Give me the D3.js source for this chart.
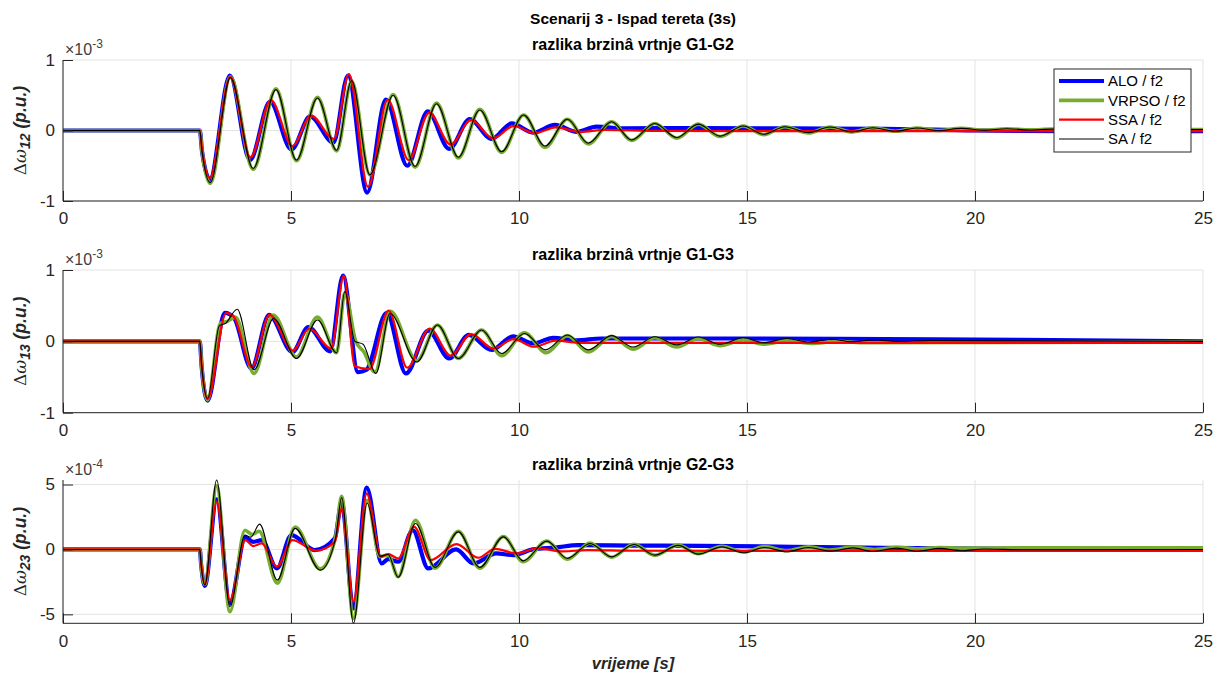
<!DOCTYPE html>
<html><head><meta charset="utf-8">
<script src="https://cdn.jsdelivr.net/npm/d3@7"></script>
<style>body{margin:0;background:#fff;} svg{display:block;font-family:"Liberation Sans",Arial,sans-serif;}</style>
</head><body><svg id="c" width="1220" height="682"></svg>
<script>
// ---------------- data ----------------
const xTicks = [0, 5, 10, 15, 20, 25];
const seriesNames = ["ALO / f2", "VRPSO / f2", "SSA / f2", "SA / f2"];
const mainTitle = "Scenarij 3 - Ispad tereta (3s)";
const panelTitles = ["razlika brzinâ vrtnje G1-G2", "razlika brzinâ vrtnje G1-G3", "razlika brzinâ vrtnje G2-G3"];
const panelSubs = ["12", "13", "23"];
const panelExp = ["-3", "-3", "-4"];
const yTicksA = [-1, 0, 1];
const yTicksB = [-5, 0, 5];
const xLabel = "vrijeme [s]";

// panel 1 (x1e-3)
const p1_ALO = [[0,0],[3,0],[3.05,-0.3],[3.22,-0.69],[3.66,0.78],[4.10,-0.42],[4.54,0.41],[5.01,-0.27],[5.42,0.20],[5.93,-0.17],[6.25,0.78],[6.67,-0.88],[7.08,0.44],[7.55,-0.50],[8.00,0.27],[8.47,-0.26],[8.92,0.16],[9.40,-0.12],[9.84,0.10],[10.31,-0.03],[10.79,0.08],[11.27,-0.02],[11.70,0.055],[12.3,0.03],[14,0.035],[16,0.03],[18,0.025],[20,0.0],[22,-0.01],[25,-0.01]];
const p1_VRPSO = [[0,0],[3,0],[3.05,-0.3],[3.23,-0.75],[3.67,0.76],[4.17,-0.55],[4.67,0.59],[5.12,-0.43],[5.58,0.47],[6.00,-0.29],[6.33,0.70],[6.73,-0.63],[7.24,0.51],[7.72,-0.52],[8.19,0.39],[8.67,-0.39],[9.14,0.30],[9.62,-0.31],[10.10,0.22],[10.57,-0.24],[11.06,0.16],[11.52,-0.19],[12.03,0.125],[12.47,-0.14],[12.98,0.10],[13.46,-0.11],[13.93,0.09],[14.41,-0.085],[14.92,0.064],[15.36,-0.06],[15.83,0.054],[16.35,-0.035],[16.82,0.05],[17.30,-0.02],[17.76,0.04],[18.25,-0.01],[18.72,0.035],[19.2,0.0],[19.7,0.03],[20.2,0.005],[20.7,0.025],[21.2,0.01],[21.7,0.02],[22.5,0.015],[25,0.015]];
const p1_SSA = [[0,0],[3,0],[3.05,-0.28],[3.22,-0.67],[3.67,0.76],[4.11,-0.38],[4.56,0.43],[5.03,-0.22],[5.44,0.21],[5.94,-0.12],[6.27,0.80],[6.69,-0.80],[7.12,0.44],[7.58,-0.42],[8.03,0.25],[8.50,-0.20],[8.95,0.15],[9.43,-0.11],[9.89,0.064],[10.35,-0.04],[10.80,0.045],[11.34,-0.02],[11.9,0.01],[13,-0.005],[16,-0.01],[25,-0.01]];
const p1_SA = [[0,0],[3,0],[3.05,-0.3],[3.23,-0.74],[3.67,0.75],[4.17,-0.54],[4.67,0.58],[5.12,-0.42],[5.58,0.46],[6.00,-0.28],[6.33,0.71],[6.73,-0.63],[7.24,0.50],[7.72,-0.51],[8.19,0.38],[8.67,-0.38],[9.14,0.29],[9.62,-0.30],[10.10,0.22],[10.57,-0.22],[11.06,0.16],[11.52,-0.18],[12.03,0.125],[12.47,-0.135],[12.98,0.10],[13.46,-0.10],[13.93,0.09],[14.41,-0.08],[14.92,0.064],[15.36,-0.054],[15.83,0.054],[16.35,-0.03],[16.82,0.05],[17.30,-0.02],[17.76,0.04],[18.25,-0.01],[18.72,0.035],[19.2,0.0],[19.7,0.03],[20.2,0.005],[20.7,0.025],[21.2,0.008],[21.7,0.02],[22.5,0.015],[25,0.015]];

// panel 2 (x1e-3)
const p2_ALO = [[0,0],[3,0],[3.04,-0.35],[3.17,-0.83],[3.55,0.40],[3.75,0.33],[4.13,-0.38],[4.52,0.37],[5.03,-0.15],[5.38,0.20],[5.86,-0.14],[6.14,0.92],[6.47,-0.43],[6.65,-0.40],[7.10,0.40],[7.52,-0.45],[8.01,0.15],[8.47,-0.24],[8.90,0.09],[9.40,-0.12],[9.87,0.07],[10.31,-0.03],[10.75,0.05],[11.27,0.015],[11.8,0.04],[15,0.04],[18,0.03],[21,0.02],[25,0.0]];
const p2_VRPSO = [[0,0],[3,0],[3.04,-0.34],[3.17,-0.82],[3.45,0.25],[3.60,0.28],[3.78,0.34],[4.19,-0.45],[4.61,0.37],[5.12,-0.22],[5.58,0.34],[6.00,-0.16],[6.18,0.68],[6.42,0.0],[6.60,-0.15],[6.84,-0.43],[7.18,0.42],[7.76,-0.27],[8.21,0.23],[8.67,-0.24],[9.18,0.16],[9.62,-0.20],[10.12,0.12],[10.60,-0.16],[11.06,0.08],[11.52,-0.15],[12.03,0.07],[12.50,-0.11],[12.98,0.05],[13.46,-0.08],[13.93,0.04],[14.41,-0.06],[14.92,0.02],[15.36,-0.04],[15.90,0.01],[16.40,-0.03],[17.0,0.0],[17.5,-0.02],[25,-0.01]];
const p2_SSA = [[0,0],[3,0],[3.04,-0.33],[3.17,-0.81],[3.58,0.40],[3.75,0.34],[4.14,-0.36],[4.53,0.37],[5.04,-0.13],[5.40,0.18],[5.88,-0.10],[6.16,0.92],[6.40,-0.35],[6.72,-0.39],[7.14,0.43],[7.55,-0.37],[8.04,0.18],[8.50,-0.20],[8.95,0.10],[9.44,-0.10],[9.88,0.03],[10.33,-0.075],[10.80,0.01],[11.3,-0.02],[25,-0.02]];
const p2_SA = [[0,0],[3,0],[3.04,-0.33],[3.17,-0.80],[3.43,0.22],[3.56,0.25],[3.82,0.45],[4.19,-0.40],[4.62,0.32],[5.12,-0.24],[5.58,0.30],[6.00,-0.16],[6.18,0.70],[6.40,0.0],[6.58,-0.04],[6.86,-0.45],[7.17,0.39],[7.76,-0.29],[8.21,0.23],[8.67,-0.24],[9.18,0.16],[9.62,-0.17],[10.12,0.11],[10.58,-0.12],[11.06,0.09],[11.52,-0.12],[12.03,0.08],[12.50,-0.08],[12.98,0.065],[13.46,-0.05],[13.93,0.06],[14.41,-0.04],[14.92,0.05],[15.36,-0.02],[15.87,0.04],[16.35,-0.01],[16.85,0.03],[17.3,-0.005],[17.8,0.02],[18.3,0.0],[19,0.01],[25,0.0]];

// panel 3 (x1e-4)
const p3_ALO = [[0,0],[3,0],[3.03,-1.2],[3.11,-2.8],[3.37,3.85],[3.66,-4.15],[4.00,0.92],[4.17,0.59],[4.36,0.72],[4.69,-1.46],[5.01,1.10],[5.52,-0.05],[5.96,0.85],[6.11,3.6],[6.37,-4.54],[6.66,4.77],[6.99,-1.08],[7.13,-0.75],[7.35,-0.95],[7.67,1.48],[8.01,-1.46],[8.62,0.0],[9.00,-1.08],[9.50,-0.30],[9.87,-0.44],[10.30,0.0],[10.8,0.15],[11.3,0.33],[12.5,0.3],[14,0.28],[16,0.2],[18,0.12],[21,0.05],[25,0.0]];
const p3_VRPSO = [[0,0],[3,0],[3.03,-1.2],[3.11,-2.7],[3.37,4.9],[3.66,-4.8],[3.99,1.48],[4.15,1.15],[4.30,1.40],[4.70,-2.6],[5.09,1.72],[5.64,-1.50],[5.98,1.0],[6.11,4.1],[6.37,-5.3],[6.67,3.79],[6.95,-0.55],[7.13,-0.42],[7.35,-2.1],[7.73,2.25],[8.16,-1.45],[8.67,1.40],[9.14,-1.45],[9.66,1.0],[10.09,-0.95],[10.61,0.65],[11.06,-0.75],[11.56,0.50],[12.03,-0.60],[12.52,0.40],[12.98,-0.45],[13.49,0.33],[13.93,-0.33],[14.45,0.25],[14.92,-0.20],[15.39,0.22],[15.87,-0.10],[16.35,0.20],[16.82,-0.05],[17.33,0.18],[17.80,0.0],[18.30,0.17],[18.75,0.05],[19.23,0.15],[19.70,0.10],[21,0.13],[25,0.12]];
const p3_SSA = [[0,0],[3,0],[3.03,-1.1],[3.11,-2.7],[3.37,3.66],[3.66,-3.9],[4.00,0.72],[4.17,0.26],[4.36,0.46],[4.69,-1.33],[5.03,0.72],[5.55,-0.10],[5.96,0.59],[6.11,3.15],[6.37,-4.03],[6.66,4.30],[6.97,-0.57],[7.13,-0.35],[7.35,-0.70],[7.70,1.74],[8.06,-0.82],[8.63,0.41],[9.11,-0.64],[9.47,0.05],[9.95,-0.31],[10.39,0.08],[10.97,-0.15],[11.5,-0.05],[12.5,-0.1],[25,-0.12]];
const p3_SA = [[0,0],[3,0],[3.03,-1.2],[3.11,-2.75],[3.37,5.35],[3.66,-4.41],[3.99,1.10],[4.12,0.95],[4.31,1.95],[4.70,-2.36],[5.09,1.62],[5.64,-1.59],[5.98,0.9],[6.11,4.0],[6.37,-5.69],[6.67,3.58],[6.95,-0.52],[7.13,-0.39],[7.35,-2.15],[7.73,2.0],[8.16,-1.38],[8.67,1.35],[9.14,-1.38],[9.66,0.97],[10.09,-0.88],[10.61,0.64],[11.06,-0.69],[11.56,0.46],[12.03,-0.57],[12.52,0.38],[12.98,-0.44],[13.49,0.31],[13.93,-0.36],[14.45,0.20],[14.92,-0.26],[15.39,0.15],[15.87,-0.18],[16.35,0.15],[16.82,-0.13],[17.33,0.12],[17.76,-0.16],[18.28,0.10],[18.75,-0.14],[19.23,0.08],[19.70,-0.10],[20.2,0.03],[21,-0.02],[25,0.0]];

// ---------------- drawing ----------------
const styles = [
  {color:"#0000FF", w:4.2},
  {color:"#77AC30", w:3.6},
  {color:"#FF0000", w:2.2},
  {color:"#000000", w:1.1}
];
const panels = [
  {top:60,  bottom:201,   domain:[-1,1],       ticks:yTicksA, data:[p1_ALO,p1_VRPSO,p1_SSA,p1_SA]},
  {top:270, bottom:412.7, domain:[-1,1],       ticks:yTicksA, data:[p2_ALO,p2_VRPSO,p2_SSA,p2_SA]},
  {top:480, bottom:623.3, domain:[-5.69,5.35], ticks:yTicksB, data:[p3_ALO,p3_VRPSO,p3_SSA,p3_SA]}
];
const L = 63, R = 1203;
const axisCol = "#262626", gridCol = "#e3e3e3";
const svg = d3.select("#c");
const x = d3.scaleLinear().domain([0,25]).range([L,R]);

svg.append("text").attr("x",633).attr("y",24).attr("text-anchor","middle")
  .attr("font-size",15.5).attr("font-weight","bold").attr("fill","#000").text(mainTitle);

panels.forEach((p,i)=>{
  const y = d3.scaleLinear().domain(p.domain).range([p.bottom,p.top]);
  const g = svg.append("g");
  // grid
  g.selectAll(".gx").data(xTicks).join("line")
    .attr("x1",d=>x(d)).attr("x2",d=>x(d)).attr("y1",p.top).attr("y2",p.bottom)
    .attr("stroke",gridCol).attr("stroke-width",1);
  g.selectAll(".gy").data(p.ticks).join("line")
    .attr("x1",L).attr("x2",R).attr("y1",d=>y(d)).attr("y2",d=>y(d))
    .attr("stroke",gridCol).attr("stroke-width",1);
  // lines
  const cid = "clip"+i;
  svg.append("clipPath").attr("id",cid).append("rect")
    .attr("x",L).attr("y",p.top-1).attr("width",R-L).attr("height",p.bottom-p.top+2);
  const line = d3.line().x(d=>x(d[0])).y(d=>y(d[1])).curve(d3.curveMonotoneX);
  const lg = g.append("g").attr("clip-path",`url(#${cid})`);
  p.data.forEach((s,k)=>{
    lg.append("path").attr("d",line(s)).attr("fill","none")
      .attr("stroke",styles[k].color).attr("stroke-width",styles[k].w)
      .attr("stroke-linejoin","round").attr("stroke-linecap","round");
  });
  // axes
  const xa = d3.axisBottom(x).tickValues(xTicks).tickSize(-10).tickPadding(8).tickFormat(d3.format("d"));
  const ya = d3.axisLeft(y).tickValues(p.ticks).tickSize(-10).tickPadding(8).tickFormat(d3.format("d"));
  const gx = g.append("g").attr("transform",`translate(0,${p.bottom})`).call(xa);
  const gy = g.append("g").attr("transform",`translate(${L},0)`).call(ya);
  [gx,gy].forEach(a=>{
    a.select(".domain").attr("stroke",axisCol).attr("stroke-width",1);
    a.selectAll(".tick line").attr("stroke",axisCol);
    a.selectAll(".tick text").attr("fill",axisCol).attr("font-size",17)
      .attr("font-family","Liberation Sans, Arial, sans-serif");
  });
  gx.select(".domain").attr("d",`M${L},0H${R}`);
  gy.select(".domain").attr("d",`M0,${p.bottom}V${p.top}`);
  gy.selectAll(".tick text").text(d=>d===0?"0":d3.format("d")(d).replace("−","-"));
  gx.selectAll(".tick text").attr("dy","0.9em");
  // exponent
  const ex = g.append("text").attr("x",L+2).attr("y",p.top-5).attr("fill","#404040").attr("font-size",16);
  ex.append("tspan").text("×10");
  ex.append("tspan").attr("dy",-7).attr("font-size",12).text(panelExp[i]);
  // panel title
  g.append("text").attr("x",633).attr("y",p.top-10).attr("text-anchor","middle")
    .attr("font-size",16).attr("font-weight","bold").attr("fill","#000").text(panelTitles[i]);
  // y label
  const cy = (p.top+p.bottom)/2;
  const yl = g.append("text").attr("transform",`translate(26,${cy}) rotate(-90)`)
    .attr("text-anchor","middle").attr("fill",axisCol).attr("font-size",17.5);
  yl.append("tspan").attr("font-family","DejaVu Serif, serif").attr("font-size",17).text("Δ");
  yl.append("tspan").attr("font-family","DejaVu Serif, serif").attr("font-style","italic").attr("font-size",17).text("ω");
  yl.append("tspan").attr("font-weight","bold").attr("font-style","italic").attr("font-size",14).attr("dy",4).text(panelSubs[i]);
  yl.append("tspan").attr("font-weight","bold").attr("font-style","italic").attr("dy",-4).text(" (p.u.)");
});

// x label
svg.append("text").attr("x",633).attr("y",669).attr("text-anchor","middle")
  .attr("font-size",16.5).attr("font-weight","bold").attr("font-style","italic").attr("fill",axisCol).text(xLabel);

// legend
const lgX = 1054, lgY = 69, lgW = 137, lgH = 83;
const leg = svg.append("g");
leg.append("rect").attr("x",lgX).attr("y",lgY).attr("width",lgW).attr("height",lgH)
  .attr("fill","#fff").attr("stroke",axisCol).attr("stroke-width",1);
const ly = d3.scalePoint().domain(seriesNames).range([lgY+12,lgY+70]);
seriesNames.forEach((n,k)=>{
  leg.append("line").attr("x1",lgX+5).attr("x2",lgX+50).attr("y1",ly(n)).attr("y2",ly(n))
    .attr("stroke",styles[k].color).attr("stroke-width",styles[k].w);
  leg.append("text").attr("x",lgX+54).attr("y",ly(n)).attr("dy","0.36em")
    .attr("font-size",15).attr("fill","#000").text(n);
});
</script></body></html>
